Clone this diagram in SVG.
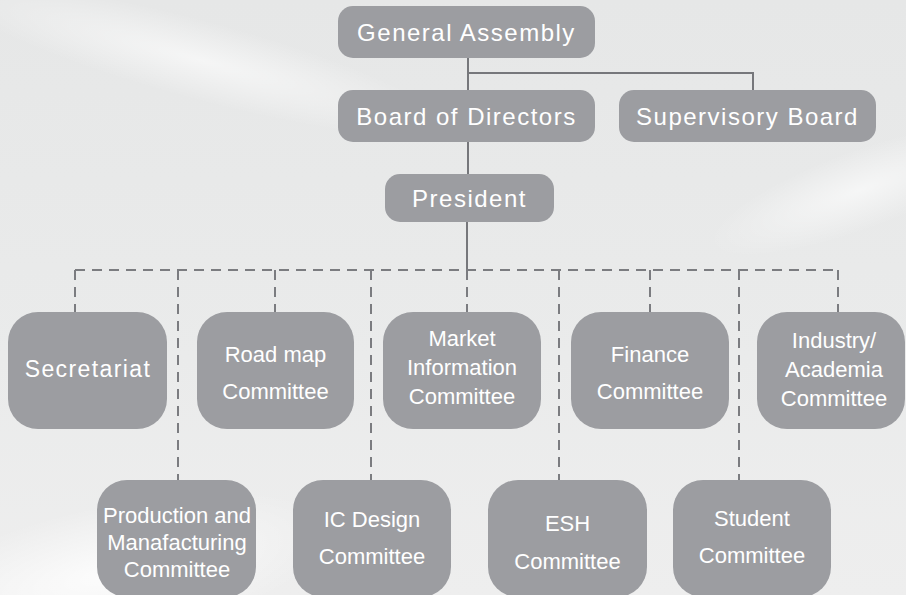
<svg xmlns="http://www.w3.org/2000/svg" width="906" height="595" viewBox="0 0 906 595">
<defs>
<linearGradient id="bg" x1="0" y1="0" x2="0" y2="1">
<stop offset="0" stop-color="#e6e7e7"/>
<stop offset="0.6" stop-color="#eaebeb"/>
<stop offset="1" stop-color="#eeeeee"/>
</linearGradient>
<radialGradient id="glow1" cx="0.5" cy="0.5" r="0.5">
<stop offset="0" stop-color="#ffffff" stop-opacity="0.85"/>
<stop offset="1" stop-color="#ffffff" stop-opacity="0"/>
</radialGradient>
<radialGradient id="glow2" cx="0.5" cy="0.5" r="0.5">
<stop offset="0" stop-color="#ffffff" stop-opacity="0.6"/>
<stop offset="1" stop-color="#ffffff" stop-opacity="0"/>
</radialGradient>
<style>
.box{fill:#9c9da1}
.t{fill:#ffffff;font-family:"Liberation Sans",Arial,sans-serif;text-anchor:middle}
.big{font-size:24px;letter-spacing:1.5px}
.sec{font-size:23px;letter-spacing:1.4px}
.sm{font-size:22px;letter-spacing:0px}
.solid{stroke:#76777b;stroke-width:2;fill:none}
.dash{stroke:#7b7c80;stroke-width:2;fill:none;stroke-dasharray:10 7}
</style>
</defs>
<rect width="906" height="595" fill="url(#bg)"/>
<ellipse cx="110" cy="575" rx="230" ry="70" fill="url(#glow1)" transform="rotate(-12 110 575)"/>
<ellipse cx="860" cy="190" rx="160" ry="40" fill="url(#glow2)" transform="rotate(-20 860 190)"/>
<ellipse cx="200" cy="60" rx="260" ry="40" fill="url(#glow2)" transform="rotate(15 200 60)"/>

<g id="connectors">
<path class="solid" d="M468 58V90M468 73H753V90M468 142V174M467 222V270"/>
<path class="dash" d="M75 270H838"/>
<path class="dash" d="M75 270V312M178 270V480M275 270V312M371 270V480M467 270V312M559 270V480M650 270V312M739 270V480M838 270V312"/>
</g>

<g id="general-assembly">
<rect class="box" x="338" y="6" width="257" height="52" rx="15"/>
<text class="t big" x="466.5" y="41">General Assembly</text>
</g>
<g id="board-of-directors">
<rect class="box" x="338" y="90" width="257" height="52" rx="15"/>
<text class="t big" x="466.5" y="125">Board of Directors</text>
</g>
<g id="supervisory-board">
<rect class="box" x="619" y="90" width="257" height="52" rx="15"/>
<text class="t big" x="747.5" y="125">Supervisory Board</text>
</g>
<g id="president">
<rect class="box" x="385" y="174" width="169" height="48" rx="15"/>
<text class="t big" x="469.5" y="206.5">President</text>
</g>

<g id="secretariat">
<rect class="box" x="8" y="312" width="159" height="117" rx="30"/>
<text class="t sec" x="88" y="377">Secretariat</text>
</g>
<g id="road-map">
<rect class="box" x="197" y="312" width="157" height="117" rx="30"/>
<text class="t sm" x="275.5" y="362">Road map</text>
<text class="t sm" x="275.5" y="399">Committee</text>
</g>
<g id="market-information">
<rect class="box" x="383" y="312" width="158" height="117" rx="30"/>
<text class="t sm" x="462" y="346">Market</text>
<text class="t sm" x="462" y="375">Information</text>
<text class="t sm" x="462" y="404">Committee</text>
</g>
<g id="finance">
<rect class="box" x="571" y="312" width="158" height="117" rx="30"/>
<text class="t sm" x="650" y="362">Finance</text>
<text class="t sm" x="650" y="399">Committee</text>
</g>
<g id="industry-academia">
<rect class="box" x="757" y="312" width="148" height="117" rx="30"/>
<text class="t sm" x="834" y="348">Industry/</text>
<text class="t sm" x="834" y="377">Academia</text>
<text class="t sm" x="834" y="406">Committee</text>
</g>

<g id="production">
<rect class="box" x="97" y="480" width="159" height="117" rx="30"/>
<text class="t sm" x="177" y="523">Production and</text>
<text class="t sm" x="177" y="550">Manafacturing</text>
<text class="t sm" x="177" y="577">Committee</text>
</g>
<g id="ic-design">
<rect class="box" x="293" y="480" width="158" height="117" rx="30"/>
<text class="t sm" x="372" y="527">IC Design</text>
<text class="t sm" x="372" y="564">Committee</text>
</g>
<g id="esh">
<rect class="box" x="488" y="480" width="159" height="117" rx="30"/>
<text class="t sm" x="567.5" y="531">ESH</text>
<text class="t sm" x="567.5" y="569">Committee</text>
</g>
<g id="student">
<rect class="box" x="673" y="480" width="158" height="117" rx="30"/>
<text class="t sm" x="752" y="526">Student</text>
<text class="t sm" x="752" y="563">Committee</text>
</g>
</svg>
